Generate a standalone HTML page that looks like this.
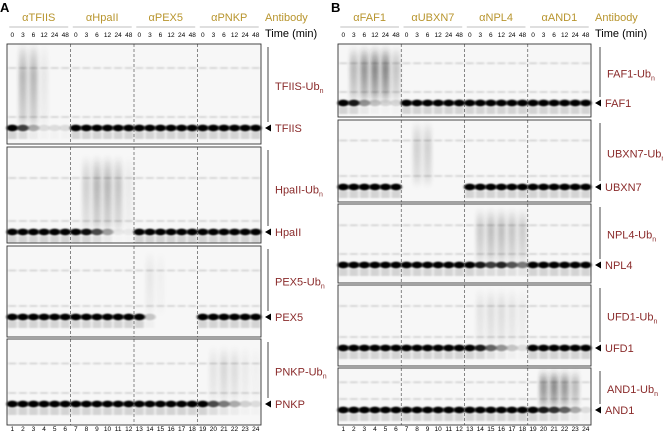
<!DOCTYPE html>
<html><head><meta charset="utf-8">
<style>
html,body{margin:0;padding:0;background:#fff;}
svg{display:block;font-family:"Liberation Sans",Arial,sans-serif;}
</style></head>
<body>
<svg id="fig" width="663" height="433" viewBox="0 0 663 433">
<defs>
<filter id="bl" x="-50%" y="-200%" width="200%" height="500%"><feGaussianBlur stdDeviation="1.1 0.9"/></filter>
<filter id="sm" x="-50%" y="-20%" width="200%" height="140%"><feGaussianBlur stdDeviation="1.8 4"/></filter>
<linearGradient id="sg" x1="0" y1="0" x2="0" y2="1">
<stop offset="0" stop-color="#222" stop-opacity="0.3"/>
<stop offset="0.35" stop-color="#222" stop-opacity="1"/>
<stop offset="1" stop-color="#222" stop-opacity="0.5"/>
</linearGradient>
</defs>
<g id="root"></g>
</svg>
<script>
// ---- data ----
const times = ["0","3","6","12","24","48"];
const antibodiesA = ["αTFIIS","αHpaII","αPEX5","αPNKP"];
const antibodiesB = ["αFAF1","αUBXN7","αNPL4","αAND1"];
const laneNumbers = ["1","2","3","4","5","6","7","8","9","10","11","12","13","14","15","16","17","18","19","20","21","22","23","24"];
const tfiisBand  = [1,.75,.3,.1,.1,.1, 1,1,1,1,1,1, 1,1,1,1,1,1, 1,1,1,1,1,1];
const tfiisSmear = [0,.5,.5,.12,0,0, 0,0,0,0,0,0, 0,0,0,0,0,0, 0,0,0,0,0,0];
const hpaBand    = [1,1,1,1,1,1, 1,.95,.7,.35,.05,.05, 1,1,1,1,1,1, 1,1,1,1,1,1];
const hpaSmear   = [0,0,0,0,0,0, 0,.3,.5,.5,.4,.1, 0,0,0,0,0,0, 0,0,0,0,0,0];
const pexBand    = [1,1,1,1,1,1, 1,1,1,1,1,1, 1,.2,0,0,0,0, 1,1,1,1,1,1];
const pexSmear   = [0,0,0,0,0,0, 0,0,0,0,0,0, 0,.12,.05,0,0,0, 0,0,0,0,0,0];
const pnkpBand   = [1,1,1,1,1,1, 1,1,1,1,1,1, 1,1,1,1,1,1, 1,.7,.5,.3,.15,.1];
const pnkpSmear  = [0,0,0,0,0,0, 0,0,0,0,0,0, 0,0,0,0,0,0, 0,.15,.25,.2,.1,.05];
const faf1Band   = [1,.9,.4,.2,.12,.12, 1,1,1,1,1,1, 1,1,1,1,1,1, 1,1,1,1,1,1];
const faf1Smear  = [0,.5,.8,.9,.9,.4, 0,0,0,0,0,0, 0,0,0,0,0,0, 0,0,0,0,0,0];
const ubxBand    = [1,1,1,1,1,1, 0,0,0,0,0,0, 1,1,1,1,1,1, 1,1,1,1,1,1];
const ubxSmear   = [0,0,0,0,0,0, 0,.3,.3,0,0,0, 0,0,0,0,0,0, 0,0,0,0,0,0];
const npl4Band   = [1,1,1,1,1,1, 1,1,1,1,1,1, 1,.9,.75,.85,.65,.5, 1,1,1,1,1,1];
const npl4Smear  = [0,0,0,0,0,0, 0,0,0,0,0,0, 0,.35,.45,.45,.4,.35, 0,0,0,0,0,0];
const ufd1Band   = [1,1,1,1,1,1, 1,1,1,1,1,1, 1,.9,.6,.4,.2,.1, 1,1,1,1,1,1];
const ufd1Smear  = [0,0,0,0,0,0, 0,0,0,0,0,0, 0,.15,.2,.2,.15,.1, 0,0,0,0,0,0];
const and1Band   = [1,1,1,1,1,1, 1,1,1,1,1,1, 1,1,1,1,1,1, 1,.9,.8,.6,.3,.1];
const and1Smear  = [0,0,0,0,0,0, 0,0,0,0,0,0, 0,0,0,0,0,0, 0,.8,.9,.8,.5,0];

const NS="http://www.w3.org/2000/svg";
const root=document.getElementById('root');
function mk(tag,attrs,parent){const e=document.createElementNS(NS,tag);for(const k in attrs)e.setAttribute(k,attrs[k]);(parent||root).appendChild(e);return e;}

const panels=[
 {x0:7,x1:261,letter:"A",ab:antibodiesA,lblX:275,brX:268,
  blots:[
   {name:"TFIIS",top:44,bot:144,band:128,b:tfiisBand,s:tfiisSmear,sTop:48},
   {name:"HpaII",top:147,bot:243,band:232,b:hpaBand,s:hpaSmear,sTop:160},
   {name:"PEX5",top:246,bot:337,band:317,b:pexBand,s:pexSmear,sTop:255},
   {name:"PNKP",top:339,bot:425,band:404,b:pnkpBand,s:pnkpSmear,sTop:350}]},
 {x0:338,x1:591,letter:"B",ab:antibodiesB,lblX:607,brX:600,
  blots:[
   {name:"FAF1",top:44,bot:117,band:103,b:faf1Band,s:faf1Smear,sTop:50},
   {name:"UBXN7",top:120,bot:202,band:187,b:ubxBand,s:ubxSmear,sTop:125},
   {name:"NPL4",top:204,bot:283,band:265,b:npl4Band,s:npl4Smear,sTop:212},
   {name:"UFD1",top:285,bot:366,band:348,b:ufd1Band,s:ufd1Smear,sTop:292},
   {name:"AND1",top:368,bot:425,band:410,b:and1Band,s:and1Smear,sTop:373}]}
];

panels.forEach(p=>{
  const g=mk('g',{});
  
  
  const pitch=(p.x1-p.x0)/24;
  const lx=i=>p.x0+pitch*(i+0.5);
  const t=mk('text',{x:p.x0-7,y:12,'font-size':13,'font-weight':'bold',fill:'#000'},g);t.textContent=p.letter;
  
  p.ab.forEach((a,k)=>{
    const cx=lx(k*6)+pitch*2.5;
    const at=mk('text',{x:cx,y:21,'font-size':11,fill:'#b8952e','text-anchor':'middle'},g);at.textContent=a;
    
    const ln=mk('line',{x1:lx(k*6)-3,x2:lx(k*6+5)+3,y1:27,y2:27,stroke:'#aaa','stroke-width':0.8},g);
    
    times.forEach((tm,j)=>{const tt=mk('text',{x:lx(k*6+j),y:37,'font-size':6.5,fill:'#000','text-anchor':'middle'},g);tt.textContent=tm;
      });
  });
  const an=mk('text',{x:p.x1+4,y:21,'font-size':11,fill:'#b8952e'},g);an.textContent="Antibody";
  
  const tm=mk('text',{x:p.x1+4,y:37,'font-size':11,fill:'#000'},g);tm.textContent="Time (min)";
  
  laneNumbers.forEach((n,i)=>{const e=mk('text',{x:lx(i),y:431,'font-size':6.5,fill:'#000','text-anchor':'middle'},g);e.textContent=n;
    });
  p.blots.forEach(b=>{
    const bg=mk('g',{},g);
    
    
    mk('rect',{x:p.x0,y:b.top,width:p.x1-p.x0,height:b.bot-b.top,fill:'#f7f7f7'},bg);
    [b.sTop+ (b.band-b.sTop)*0.25, b.band-11].forEach(yy=>{
      for(let i=0;i<24;i++) mk('rect',{x:lx(i)-4,y:yy-1,width:8,height:2,fill:'#000',opacity:0.12,filter:'url(#bl)'},bg);
    });
    for(let i=0;i<24;i++){
      if(b.s[i]>0) mk('rect',{x:lx(i)-4,y:b.sTop,width:8,height:b.band-b.sTop-4,fill:'url(#sg)',opacity:b.s[i]*0.6,filter:'url(#sm)'},bg);
      if(b.b[i]>0){
        mk('ellipse',{cx:lx(i),cy:b.band,rx:5.8,ry:3.4,fill:'#000',opacity:Math.min(1,b.b[i]),filter:'url(#bl)'},bg);
        mk('rect',{x:lx(i)-4.5,y:b.band+4,width:9,height:7,fill:'#000',opacity:0.14*b.b[i],filter:'url(#bl)'},bg);
      }
    }
    for(let k=1;k<4;k++){const x=p.x0+pitch*6*k;
      const d=mk('line',{x1:x,x2:x,y1:b.top,y2:b.bot,stroke:'#555','stroke-width':0.7,'stroke-dasharray':'3,2'},bg);
      }
    mk('rect',{x:p.x0,y:b.top,width:p.x1-p.x0,height:b.bot-b.top,fill:'none',stroke:'#333','stroke-width':0.9},bg);
    const br=mk('line',{x1:p.brX,x2:p.brX,y1:b.top+3,y2:b.band-6,stroke:'#333','stroke-width':0.9},bg);
    
    const ul=mk('text',{x:p.lblX,y:(b.top+b.band)/2+4,'font-size':11,fill:'#8a2b2b'},bg);
    ul.textContent=b.name+"-Ub";
    const sub=mk('tspan',{'font-size':7,dy:3},ul);sub.textContent="n";
    
    const tri=mk('path',{d:`M${p.x1+4} ${b.band} l6 -3.5 v7 z`,fill:'#000'},bg);
    
    const pl=mk('text',{x:p.x1+14,y:b.band+4,'font-size':11,fill:'#8a2b2b'},bg);pl.textContent=b.name;
    
  });
});
</script>
</body></html>
